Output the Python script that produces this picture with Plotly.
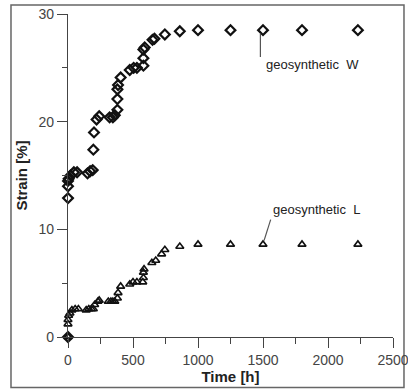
import plotly.graph_objects as go

# geosynthetic W (diamonds)
w_time = [0, 0, 0, 0, 5, 20, 45, 70, 150, 170, 190, 195, 200, 220, 240, 320, 345, 360,
          380, 380, 380, 385, 405, 475, 505, 530, 580, 580, 580, 590, 650, 665, 745, 860,
          1000, 1250, 1500, 1800, 2230]
w_strain = [0, 12.9, 14.0, 14.5, 14.7, 15.0, 15.3, 15.3, 15.2, 15.4, 15.5, 17.4, 19.0, 20.2,
            20.5, 20.4, 20.4, 20.6, 21.1, 22.1, 23.0, 23.4, 24.1, 24.8, 25.0, 25.0, 25.2,
            25.9, 26.7, 26.9, 27.6, 27.7, 28.1, 28.4, 28.5, 28.5, 28.5, 28.5, 28.5]

# geosynthetic L (triangles)
l_time = [0, 0, 0, 5, 15, 30, 55, 80, 140, 160, 180, 195, 205, 230, 240, 310, 330, 345,
          360, 380, 385, 405, 475, 500, 530, 575, 580, 580, 585, 645, 675, 720, 745, 860,
          1000, 1250, 1500, 1800, 2230]
l_strain = [0, 1.2, 1.6, 2.0, 2.2, 2.5, 2.6, 2.6, 2.5, 2.6, 2.6, 2.6, 3.0, 3.3, 3.4, 3.3,
            3.3, 3.3, 3.3, 3.6, 4.1, 4.7, 4.9, 5.1, 5.1, 5.1, 5.5, 6.0, 6.3, 6.9, 7.1, 7.7,
            8.1, 8.4, 8.6, 8.6, 8.6, 8.6, 8.6]

x_ticks = [0, 500, 1000, 1500, 2000, 2500]
y_ticks = [0, 10, 20, 30]

fig = go.Figure()
fig.add_trace(go.Scatter(
    x=l_time, y=l_strain, mode="markers", cliponaxis=False,
    marker=dict(symbol="triangle-up-open", size=7, color="#111",
                line=dict(width=1.6, color="#111")),
    showlegend=False))
fig.add_trace(go.Scatter(
    x=w_time, y=w_strain, mode="markers", cliponaxis=False,
    marker=dict(symbol="diamond-open", size=7.5, color="#111",
                line=dict(width=2.2, color="#111")),
    showlegend=False))

axis_common = dict(showline=True, linecolor="#444", linewidth=1.2, ticks="outside",
                   tickcolor="#444", tickwidth=1.2, ticklen=10, showgrid=False,
                   zeroline=False, automargin=False, ticklabeloverflow="allow",
                   tickfont=dict(family="Liberation Sans, Arial", size=14, color="#444"))

fig.update_layout(
    width=408, height=389,
    margin=dict(l=68, r=15, t=14, b=52, pad=0),
    paper_bgcolor="white", plot_bgcolor="white",
    xaxis=dict(range=[0, 2500], tickvals=x_ticks, ticktext=[str(v) for v in x_ticks],
               minor=dict(dtick=250, tick0=0, ticks="outside", ticklen=6,
                          tickcolor="#444", tickwidth=1.2),
               title=dict(text="<b>Time [h]</b>", standoff=3,
                          font=dict(family="Liberation Sans, Arial", size=15, color="#222")),
               **axis_common),
    yaxis=dict(range=[0, 30], tickvals=y_ticks, ticktext=[str(v) for v in y_ticks],
               minor=dict(dtick=5, tick0=0, ticks="outside", ticklen=5,
                          tickcolor="#444", tickwidth=1.2),
               title=dict(text="<b>Strain [%]</b>", standoff=7,
                          font=dict(family="Liberation Sans, Arial", size=15, color="#222")),
               **axis_common),
)

# outer frame
fig.add_shape(type="rect", xref="paper", yref="paper",
              x0=-0.1754, x1=1.0338, y0=-0.1561, y1=1.0278,
              line=dict(color="#666", width=1.5), layer="below")

# label leader lines
fig.add_shape(type="line", xref="x", yref="y", x0=1480, y0=28.2, x1=1480, y1=26.0,
              line=dict(color="#555", width=1.2))
fig.add_shape(type="line", xref="x", yref="y", x0=1559, y0=10.9, x1=1508, y1=8.95,
              line=dict(color="#555", width=1.2))

fig.add_annotation(x=1510, y=25.3, text="geosynthetic  W", showarrow=False,
                   xanchor="left", yanchor="middle",
                   font=dict(family="Liberation Sans, Arial", size=13, color="#222"))
fig.add_annotation(x=1565, y=11.85, text="geosynthetic  L", showarrow=False,
                   xanchor="left", yanchor="middle",
                   font=dict(family="Liberation Sans, Arial", size=13, color="#222"))

fig.write_html("out.html")
